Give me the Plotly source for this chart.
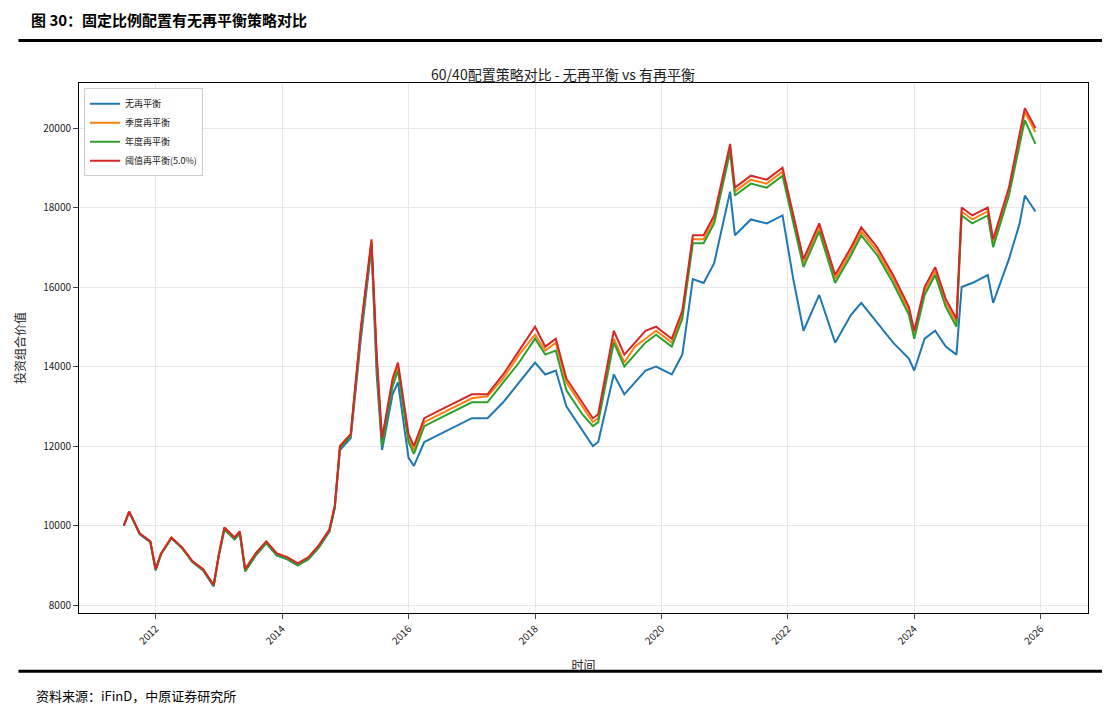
import plotly.graph_objects as go

dates = ["2011-07","2011-08","2011-10","2011-12","2012-01","2012-02","2012-04","2012-06","2012-08","2012-10","2012-12",
"2013-01","2013-02","2013-04","2013-05","2013-06","2013-08","2013-10","2013-12","2014-02","2014-04","2014-06","2014-08",
"2014-10","2014-11","2014-12","2015-02","2015-04","2015-06","2015-07","2015-08","2015-10","2015-11","2016-01","2016-02",
"2016-04","2016-07","2016-10","2017-01","2017-04","2017-07","2017-10","2018-01","2018-03","2018-05","2018-07","2018-10",
"2018-12","2019-01","2019-04","2019-06","2019-08","2019-10","2019-12","2020-03","2020-05","2020-07","2020-09","2020-11",
"2021-02","2021-03","2021-06","2021-09","2021-12","2022-02","2022-04","2022-07","2022-10","2023-01","2023-03","2023-06",
"2023-09","2023-12","2024-01","2024-03","2024-05","2024-07","2024-09","2024-10","2024-12","2025-03","2025-04","2025-07",
"2025-09","2025-10","2025-12"]

red = [10000,10350,9800,9600,8900,9300,9700,9450,9100,8900,8500,9300,9950,9700,9850,8900,9300,9600,9300,9200,9050,9200,9500,
9900,10500,12000,12300,15000,17200,14300,12200,13700,14100,12300,12000,12700,12900,13100,13300,13300,13800,14400,15000,14500,
14700,13700,13100,12700,12800,14900,14300,14600,14900,15000,14700,15400,17300,17300,17800,19600,18500,18800,18700,19000,17800,
16700,17600,16300,17000,17500,17000,16300,15500,14900,16000,16500,15700,15200,18000,17800,18000,17200,18500,19800,20500,20000]
orange = [10000,10350,9800,9600,8900,9300,9700,9450,9100,8900,8500,9300,9950,9700,9850,8900,9300,9600,9300,9200,9050,9200,9500,
9900,10500,12000,12300,14900,17150,14200,12100,13600,14000,12200,11900,12600,12800,13000,13200,13250,13700,14300,14800,14400,
14600,13600,13000,12600,12700,14700,14100,14500,14700,14900,14600,15300,17200,17200,17700,19500,18400,18700,18600,18900,17700,
16600,17500,16200,16900,17400,16900,16200,15400,14800,15900,16400,15600,15100,17900,17700,17900,17100,18400,19700,20400,19900]
green = [10000,10340,9790,9590,8880,9280,9680,9430,9080,8880,8480,9280,9900,9650,9800,8850,9250,9550,9250,9150,9000,9150,9450,
9850,10450,11950,12250,14900,17100,14100,12000,13500,13900,12100,11800,12500,12700,12900,13100,13100,13600,14100,14700,14300,
14400,13400,12800,12500,12600,14600,14000,14300,14600,14800,14500,15200,17100,17100,17600,19400,18300,18600,18500,18800,17600,
16500,17400,16100,16800,17300,16800,16100,15300,14700,15800,16300,15500,15000,17800,17600,17800,17000,18300,19600,20200,19600]
blue = [10000,10340,9780,9580,8870,9280,9690,9440,9080,8870,8470,9260,9900,9660,9800,8850,9250,9560,9250,9150,9000,9150,9450,
9850,10450,11900,12200,14700,17000,13800,11900,13300,13600,11700,11500,12100,12300,12500,12700,12700,13100,13600,14100,13800,
13900,13000,12400,12000,12100,13800,13300,13600,13900,14000,13800,14300,16200,16100,16600,18400,17300,17700,17600,17800,16200,
14900,15800,14600,15300,15600,15100,14600,14200,13900,14700,14900,14500,14300,16000,16100,16300,15600,16700,17600,18300,17900]

series = [("无再平衡", blue, "#1f77b4"), ("季度再平衡", orange, "#ff7f0e"),
          ("年度再平衡", green, "#2ca02c"), ("阈值再平衡(5.0%)", red, "#d62728")]
tick_vals = ["2012-01-01","2014-01-01","2016-01-01","2018-01-01","2020-01-01","2022-01-01","2024-01-01","2026-01-01"]
tick_text = ["2012","2014","2016","2018","2020","2022","2024","2026"]

F = "Noto Sans CJK SC"
fig = go.Figure()
for name, vals, c in series:
    fig.add_trace(go.Scatter(x=dates, y=vals, name=name, mode="lines", line=dict(color=c, width=2)))

fig.update_layout(
    width=1110, height=704, autosize=False, paper_bgcolor="white", plot_bgcolor="white",
    margin=dict(l=67, r=30, t=75, b=99), font=dict(family=F, size=10, color="#222"),
    title=dict(text="60/40配置策略对比 - 无再平衡 vs 有再平衡", x=0.5, xanchor="center", y=0.905, yanchor="middle",
               font=dict(size=14, color="#222")),
    legend=dict(x=0.005, y=0.99, xanchor="left", yanchor="top", bgcolor="white", bordercolor="#ccc", borderwidth=1,
                font=dict(size=9)),
    xaxis=dict(range=["2010-10-15", "2026-10-01"], tickvals=tick_vals, ticktext=tick_text, tickangle=-45,
               showgrid=True, gridcolor="#e8e8e8", showline=True, linecolor="black", mirror=True, ticks="outside",
               title=dict(text="时间", font=dict(size=12))),
    yaxis=dict(range=[7799, 21132], tickvals=[8000,10000,12000,14000,16000,18000,20000], tickformat="d",
               showgrid=True, gridcolor="#e8e8e8", showline=True, linecolor="black", mirror=True, ticks="outside",
               title=dict(text="投资组合价值", font=dict(size=12))),
    showlegend=True,
)
fig.add_annotation(text="<b>图 30：固定比例配置有无再平衡策略对比</b>", xref="paper", yref="paper",
                   x=-0.05, y=1.12, xanchor="left", yanchor="middle", showarrow=False, font=dict(size=15, color="black"))
fig.add_annotation(text="资料来源：iFinD，中原证券研究所", xref="paper", yref="paper",
                   x=-0.045, y=-0.155, xanchor="left", yanchor="middle", showarrow=False, font=dict(size=13, color="black"))
fig.add_shape(type="line", xref="paper", yref="paper", x0=-0.06, x1=1.03, y0=1.08, y1=1.08, line=dict(color="black", width=3))
fig.add_shape(type="line", xref="paper", yref="paper", x0=-0.06, x1=1.03, y0=-0.11, y1=-0.11, line=dict(color="black", width=3))
fig.write_html("out.html")
